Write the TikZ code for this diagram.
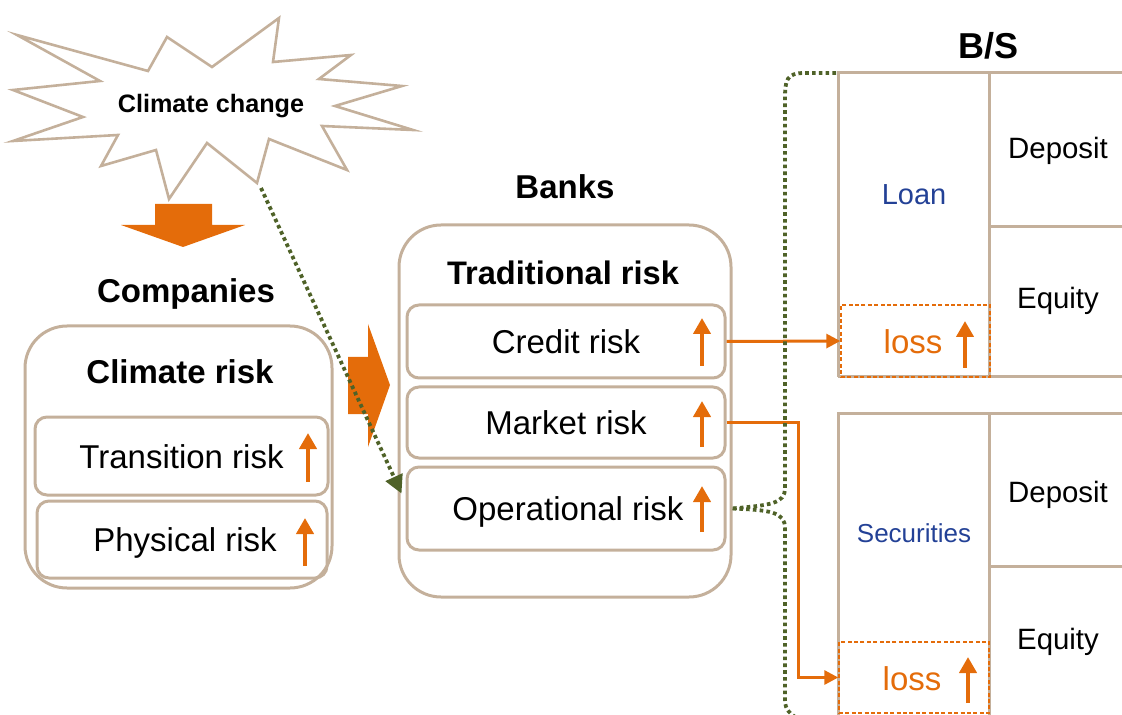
\documentclass[tikz,border=0pt]{standalone}
\usepackage{fontspec}
\setmainfont{Liberation Sans}
\usetikzlibrary{calc}
\usetikzlibrary{arrows.meta}
\definecolor{tanline}{RGB}{196,176,155}
\definecolor{riskorange}{RGB}{228,108,10}
\definecolor{dotgreen}{RGB}{79,98,40}
\definecolor{assetblue}{RGB}{35,65,150}
\newcommand*{\fsz}[1]{\fontsize{#1}{#1}\selectfont}
\newcommand*{\uparr}[3]{\draw [uparrow] (#1,#2) -- (#1,#3);}
\tikzset{
    outerbox/.style = {draw=tanline, line width=1.5pt, rounded corners=21pt, inner sep=0pt},
    innerbox/.style = {draw=tanline, line width=1.5pt, rounded corners=6pt, inner sep=0pt, font=\fsz{16.5},
                       text height=12.4pt, text depth=0pt},
    losspart/.style = {draw=riskorange, line width=0.7pt, dash pattern=on 2pt off 1.2pt, inner sep=0pt},
    title/.style    = {font=\bfseries\fsz{16.5}},
    bsline/.style   = {draw=tanline, line width=1.5pt},
    uparrow/.style  = {draw=riskorange, line width=2pt, -{Triangle[length=8pt,width=8.5pt]}},
    flowarrow/.style= {draw=riskorange, line width=1.5pt, -{Triangle[length=7pt,width=7pt]}},
    dotlink/.style  = {draw=dotgreen, line width=1.9pt, dash pattern=on 1.8pt off 1.6pt},
    bigarrow/.style = {fill=riskorange, draw=none},
}

\begin{document}
\begin{tikzpicture}[x=0.5pt, y=-0.5pt]
    \useasboundingbox (0,0) rectangle (1122,715);

    % climate change burst
    \draw [draw=tanline, line width=1.3pt, fill=white, line join=miter]
        (17,35) -- (148,71) -- (167,37) -- (212,67) -- (279,18) -- (273,62) -- (351,55) -- (319,79)
        -- (402,86) -- (335,106) -- (413,130) -- (322,126) -- (347,170) -- (269,139) -- (257,183)
        -- (207,143) -- (169,199) -- (156,150) -- (101,166) -- (118,135) -- (13,141) -- (83,117)
        -- (13,90) -- (100,81) -- cycle;
    \node [font=\bfseries\fsz{12.6}] (burst) at (211,106) {Climate change};
    \coordinate (bursttip) at (261,188);

    \draw [bigarrow] (155,204) -- (212,204) -- (212,225) -- (245,225) -- (183,247) -- (121,225) -- (155,225) -- cycle;
    \draw [bigarrow] (348,357) -- (368,357) -- (368,324) -- (390,385) -- (368,447) -- (368,414) -- (348,414) -- cycle;

    % companies
    \node [title] (companies) at (186,294) {Companies};
    \node [outerbox, minimum width=153.5pt, minimum height=131pt] (climbox) at (178.5,457) {};
    \node [title] (climrisk) at (180,372) {Climate risk};
    \node [innerbox, minimum width=146.5pt, minimum height=39pt] (transition) at (181.5,456) {Transition risk};
    \node [innerbox, minimum width=145pt, minimum height=38.5pt] (physical) at (182,539.5) {\hspace*{3pt}Physical risk};
    \uparr{308}{482}{433}
    \uparr{305}{566}{518}

    % banks
    \node [title] (banks) at (565,187) {Banks};
    \node [outerbox, minimum width=166pt, minimum height=186pt] (bankbox) at (565,411) {};
    \node [font=\bfseries\fsz{16.3}] (tradrisk) at (563,273) {Traditional risk};
    \node [innerbox, minimum width=159pt, minimum height=36.5pt] (credit) at (566,341.5) {Credit risk};
    \node [innerbox, minimum width=159pt, minimum height=35.5pt] (market) at (566,422.5) {Market risk};
    \node [innerbox, minimum width=159pt, minimum height=41.5pt] (oper) at (566,508.5) {\hspace*{2pt}Operational risk};
    \uparr{702}{366}{318}
    \uparr{702}{447}{401}
    \uparr{702}{532}{486}

    % balance sheets
    \node [title, font=\bfseries\fsz{18}] (bs) at (988,46) {B/S};
    \draw [bsline] (838,377) -- (838,73) -- (1125,73);
    \draw [bsline] (989,73) -- (989,377);
    \draw [bsline] (989,227) -- (1125,227);
    \draw [bsline] (838,377) -- (1125,377);
    \draw [bsline] (838,720) -- (838,413) -- (1125,413);
    \draw [bsline] (989,413) -- (989,720);
    \draw [bsline] (989,566) -- (1125,566);
    \coordinate (bs1) at (836,73);

    \node [font=\fsz{14.7}] (dep1) at (1058,151) {Deposit};
    \node [font=\fsz{14.7}] (eq1) at (1058,301) {Equity};
    \node [font=\fsz{14.5}, text=assetblue] (loan) at (914,195) {Loan};
    \node [losspart, minimum width=74.5pt, minimum height=36pt] (loss1) at (915.5,341) {};
    \node [font=\fsz{16.5}, text=riskorange] (losst1) at (913,342) {loss};
    \uparr{965}{368}{321}

    \node [font=\fsz{14.7}] (dep2) at (1058,495) {Deposit};
    \node [font=\fsz{14.7}] (eq2) at (1058,642) {Equity};
    \node [font=\fsz{13}, text=assetblue] (secur) at (914,533) {Securities};
    \node [losspart, minimum width=75pt, minimum height=35.5pt] (loss2) at (914,677.5) {};
    \node [font=\fsz{16.5}, text=riskorange] (losst2) at (912,679) {loss};
    \uparr{968}{703}{657}

    % links
    \draw [flowarrow] (credit.east) -- (loss1.west);
    \draw [flowarrow] (market.east) -- ++(72,0) |- (loss2.west);
    \coordinate (opin) at ($(oper.west)+(-4,-15)$);
    \draw [dotlink, -{Triangle[length=9pt,width=9pt]}] (bursttip) -- (opin);
    \coordinate (oprt) at (bankbox.east |- oper.east);
    \draw [dotlink] (bs1) -- (805,73) .. controls (786,73) and (785,80) .. (785,100) -- (785,488)
        .. controls (785,504) and (770,505) .. (oprt);
    \draw [dotlink] (oprt) .. controls (770,510) and (785,512) .. (785,528) -- (785,700)
        .. controls (785,710) and (790,714) .. (800,720);
\end{tikzpicture}
\end{document}
